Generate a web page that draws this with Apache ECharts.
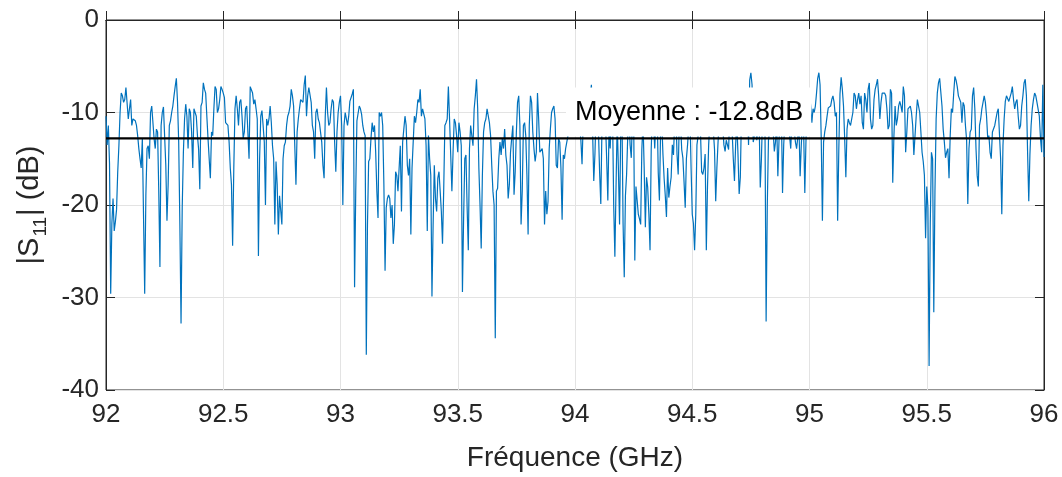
<!DOCTYPE html>
<html>
<head>
<meta charset="utf-8">
<script src="https://cdn.jsdelivr.net/npm/echarts@6/dist/echarts.min.js"></script>
<style>
  html, body { margin: 0; padding: 0; background: #fff; }
  #chart { width: 1062px; height: 477px; }
</style>
</head>
<body>
<div id="chart"></div>
<script>
// frequency sweep, 92 -> 96 GHz, one sample every 5 MHz
const freqStart = 92
const freqStep = 0.005

// |S11| in dB (one row = 0.1 GHz)
const s11 = [
  -10.4, -13.5, -11.4, -15.5, -29.6, -22.0, -19.3, -22.8, -21.8, -20.5, -16.4, -13.6, -10.0, -7.9, -8.2, -8.9, -8.6, -7.3, -7.2, -10.7,
  -9.6, -8.6, -11.4, -10.7, -10.7, -10.9, -11.4, -12.5, -13.9, -15.0, -16.0, -12.8, -12.8, -29.6, -19.0, -13.9, -13.6, -15.0, -10.0, -9.3,
  -9.3, -12.8, -13.9, -11.8, -12.1, -18.5, -26.7, -11.4, -10.0, -9.4, -9.6, -15.7, -21.7, -17.8, -11.4, -10.9, -10.0, -9.3, -8.2, -7.2,
  -6.3, -8.9, -13.2, -22.1, -32.8, -20.3, -14.3, -10.7, -9.1, -10.4, -13.9, -9.6, -10.0, -12.1, -16.0, -9.6, -9.6, -10.4, -12.5, -14.0,
  -18.3, -9.3, -8.9, -6.8, -7.5, -7.9, -10.4, -12.8, -15.0, -17.1, -12.1, -12.5, -9.6, -7.2, -7.5, -10.0, -9.6, -8.6, -7.2, -7.5,
  -7.9, -8.4, -11.1, -11.2, -11.4, -13.2, -16.0, -17.8, -24.4, -16.0, -9.6, -8.2, -9.6, -11.4, -8.9, -8.6, -10.4, -12.8, -12.1, -9.6,
  -9.3, -12.1, -15.0, -7.2, -7.2, -7.9, -9.1, -8.6, -9.6, -10.7, -25.5, -15.0, -10.4, -9.8, -11.4, -13.2, -20.0, -10.7, -11.4, -10.7,
  -9.3, -11.1, -13.6, -15.0, -22.1, -15.3, -17.8, -23.2, -19.0, -18.9, -22.1, -15.0, -13.6, -13.2, -11.4, -10.4, -10.0, -9.3, -7.5, -8.2,
  -9.3, -9.3, -17.8, -12.1, -10.7, -9.6, -8.6, -8.4, -8.9, -7.0, -6.0, -10.4, -8.2, -7.3, -7.5, -8.9, -11.4, -12.1, -15.0, -10.0,
  -9.6, -10.7, -11.1, -11.1, -13.2, -15.7, -17.1, -10.4, -7.3, -10.0, -11.4, -11.1, -9.6, -8.6, -8.9, -13.2, -16.4, -12.1, -10.0, -8.9,
  -8.2, -11.4, -20.0, -11.4, -10.0, -10.2, -11.4, -10.4, -8.8, -8.8, -8.0, -7.5, -28.9, -18.5, -10.9, -11.1, -9.3, -9.6, -10.2, -11.4,
  -12.1, -12.5, -36.2, -22.1, -15.3, -15.0, -12.8, -11.1, -12.1, -11.4, -14.3, -18.5, -21.4, -10.0, -10.4, -10.0, -11.4, -17.8, -27.1, -20.3,
  -19.3, -18.9, -19.3, -21.4, -20.0, -24.2, -22.1, -16.4, -16.8, -18.5, -16.0, -13.6, -20.7, -13.2, -11.8, -10.4, -11.4, -15.7, -16.8, -15.0,
  -23.2, -16.0, -13.2, -10.4, -11.1, -10.0, -8.6, -8.9, -7.5, -10.4, -9.6, -9.6, -10.7, -13.6, -22.8, -12.5, -15.0, -16.8, -29.9, -22.1,
  -15.7, -19.3, -20.7, -17.1, -16.4, -18.5, -20.7, -24.2, -18.5, -11.4, -11.1, -10.7, -7.2, -10.7, -14.6, -18.5, -14.3, -10.7, -11.1, -12.5,
  -14.3, -11.1, -12.1, -13.6, -29.4, -21.4, -15.0, -14.6, -20.3, -24.9, -13.9, -11.4, -11.4, -13.6, -9.6, -8.2, -6.4, -9.6, -16.0, -20.0,
  -24.7, -16.8, -12.1, -11.1, -10.7, -9.6, -9.6, -11.1, -12.5, -15.7, -18.5, -20.0, -34.4, -18.5, -18.2, -15.0, -13.2, -14.6, -12.8, -13.9,
  -11.8, -14.6, -15.7, -19.3, -17.8, -14.3, -12.8, -11.4, -18.9, -16.4, -12.1, -8.9, -8.2, -11.4, -22.1, -18.5, -11.4, -11.1, -12.5, -16.8,
  -23.2, -11.4, -8.2, -8.9, -12.1, -13.9, -15.3, -14.3, -7.9, -10.7, -14.3, -14.1, -13.9, -15.0, -22.1, -18.5, -21.0, -19.6, -13.9, -11.8,
  -10.0, -9.6, -9.3, -10.7, -15.7, -16.0, -12.8, -13.2, -16.0, -21.6, -14.6, -15.0, -13.9, -13.2, -12.5, -12.5, -11.0, -10.5, -9.0, -8.5,
  -10.0, -11.5, -9.5, -9.0, -11.5, -13.0, -15.6, -11.0, -10.5, -9.5, -8.5, -10.5, -11.0, -8.0, -7.0, -12.0, -17.4, -14.5, -10.0, -9.0,
  -12.0, -16.5, -19.9, -11.5, -9.0, -10.0, -11.0, -15.0, -19.5, -12.0, -13.9, -10.5, -10.0, -20.0, -25.6, -18.0, -11.0, -16.0, -22.1, -12.0,
  -9.5, -22.0, -27.8, -19.0, -16.7, -12.5, -10.5, -13.5, -14.9, -10.5, -10.0, -26.0, -18.0, -19.5, -21.0, -21.5, -22.1, -14.0, -11.0, -16.0,
  -22.4, -17.0, -18.1, -21.0, -24.9, -14.0, -10.0, -11.0, -13.9, -10.5, -9.5, -16.5, -19.5, -12.0, -11.0, -14.5, -17.1, -19.0, -21.3, -16.0,
  -19.2, -18.0, -17.0, -13.5, -14.6, -11.0, -10.0, -14.5, -16.7, -10.5, -11.0, -14.0, -14.9, -17.5, -20.3, -15.0, -13.5, -11.5, -10.0, -16.0,
  -21.0, -22.0, -24.9, -21.0, -13.5, -12.5, -11.0, -12.0, -16.4, -16.7, -16.0, -14.5, -24.9, -18.0, -13.5, -11.0, -9.5, -10.5, -12.0, -14.0,
  -19.6, -16.0, -13.2, -11.0, -10.5, -12.0, -11.5, -13.5, -14.2, -13.0, -13.5, -14.0, -10.0, -11.0, -12.0, -15.0, -17.4, -13.5, -11.0, -14.5,
  -18.8, -17.0, -10.0, -11.0, -11.5, -10.0, -9.0, -7.5, -13.5, -6.5, -5.7, -7.0, -13.2, -12.5, -11.0, -13.0, -12.0, -10.5, -18.1, -15.0,
  -10.0, -12.5, -11.0, -32.6, -20.0, -13.0, -12.0, -10.5, -10.0, -12.0, -14.2, -13.2, -11.0, -16.9, -13.0, -11.0, -10.0, -18.7, -13.5, -11.0,
  -11.5, -10.5, -10.0, -12.5, -13.9, -11.0, -9.5, -12.0, -13.2, -13.9, -13.9, -11.5, -16.9, -13.5, -11.0, -12.0, -18.7, -13.0, -9.0, -7.5,
  -7.9, -9.3, -11.1, -9.6, -10.0, -9.3, -7.9, -6.3, -5.7, -7.0, -12.8, -21.7, -13.2, -12.1, -11.4, -10.4, -9.5, -9.5, -9.3, -8.6,
  -8.2, -8.9, -10.4, -10.0, -21.7, -14.0, -8.0, -6.2, -7.5, -9.3, -12.8, -17.0, -11.8, -10.7, -11.1, -11.4, -11.4, -10.0, -7.9, -8.2,
  -9.6, -8.6, -7.9, -9.1, -8.2, -11.1, -11.8, -7.9, -8.6, -10.0, -7.5, -6.8, -10.7, -11.8, -11.4, -8.6, -7.5, -7.0, -6.4, -8.2,
  -10.7, -8.9, -7.9, -8.0, -7.9, -8.2, -9.6, -11.8, -11.4, -7.5, -7.9, -17.6, -12.5, -9.3, -11.4, -10.7, -9.3, -8.8, -9.3, -10.0,
  -7.2, -8.2, -14.3, -12.1, -9.6, -9.5, -9.3, -10.0, -11.4, -14.6, -14.6, -10.4, -8.6, -8.8, -10.0, -12.1, -14.3, -15.3, -16.8, -23.6,
  -18.0, -20.3, -37.4, -22.0, -14.3, -15.0, -31.6, -18.5, -10.7, -7.9, -6.8, -6.3, -6.4, -9.3, -11.8, -13.2, -14.9, -14.3, -13.9, -17.1,
  -12.5, -9.6, -10.0, -7.9, -6.1, -6.5, -7.2, -8.2, -8.2, -8.9, -11.1, -8.9, -9.3, -11.4, -13.0, -19.9, -13.9, -12.1, -11.8, -8.2,
  -7.3, -9.6, -13.9, -16.8, -18.0, -11.4, -10.7, -9.6, -8.9, -8.2, -8.9, -10.4, -12.8, -12.5, -14.3, -15.0, -12.1, -12.1, -11.4, -10.7,
  -10.0, -9.6, -9.6, -15.0, -21.0, -13.6, -10.7, -8.8, -8.2, -8.4, -8.8, -8.9, -7.9, -7.2, -8.6, -9.6, -8.9, -8.6, -10.4, -11.8,
  -11.4, -9.3, -8.2, -6.8, -6.4, -8.2, -14.3, -19.6, -14.5, -11.4, -9.6, -8.6, -7.9, -8.2, -8.9, -8.9, -10.4, -12.8, -14.3, -7.0,
  -14.8
]

const meanValue = -12.8
const meanText = 'Moyenne : -12.8dB'
const xTicks = [92, 92.5, 93, 93.5, 94, 94.5, 95, 95.5, 96]
const yTicks = [-40, -30, -20, -10, 0]

const axisColor = '#262626'
const gridColor = '#e3e3e3'
const fontFamily = 'Liberation Sans, Arial, Helvetica, sans-serif'

const traceData = s11.map((v, i) => [+(freqStart + i * freqStep).toFixed(3), v])

const chart = echarts.init(document.getElementById('chart'))

const baseX = {
  type: 'value',
  min: xTicks[0],
  max: xTicks[xTicks.length - 1],
  interval: xTicks[1] - xTicks[0]
}
const baseY = {
  type: 'value',
  min: yTicks[0],
  max: yTicks[yTicks.length - 1],
  interval: yTicks[1] - yTicks[0]
}

let option = {
  animation: false,
  backgroundColor: '#fff',
  grid: {
    left: 106, right: 18, top: 20, bottom: 83,
    show: true, borderColor: axisColor, borderWidth: 1
  },
  xAxis: [{
    ...baseX,
    name: 'Fréquence (GHz)',
    nameLocation: 'middle',
    nameGap: 54,
    nameTextStyle: { fontSize: 28, color: axisColor, fontFamily: fontFamily },
    axisLine: { show: true, lineStyle: { color: axisColor } },
    axisTick: { show: true, inside: true, length: 9, lineStyle: { color: axisColor } },
    axisLabel: { fontSize: 26, color: axisColor, fontFamily: fontFamily, margin: 12 },
    splitLine: { show: true, lineStyle: { color: gridColor, width: 1 } }
  }, {
    ...baseX,
    position: 'top',
    axisLine: { show: true, lineStyle: { color: axisColor } },
    axisTick: { show: true, inside: true, length: 9, lineStyle: { color: axisColor } },
    axisLabel: { show: false },
    splitLine: { show: false }
  }],
  yAxis: [{
    ...baseY,
    name: '|S{sub|11}| (dB)',
    nameLocation: 'middle',
    nameGap: 56,
    nameTextStyle: {
      fontSize: 29, color: axisColor, fontFamily: fontFamily,
      rich: {
        sub: { fontSize: 19, color: axisColor, fontFamily: fontFamily, padding: [22, 1, 0, 1] }
      }
    },
    axisLine: { show: true, lineStyle: { color: axisColor } },
    axisTick: { show: true, inside: true, length: 9, lineStyle: { color: axisColor } },
    axisLabel: { fontSize: 26, color: axisColor, fontFamily: fontFamily, margin: 7 },
    splitLine: { show: true, lineStyle: { color: gridColor, width: 1 } }
  }, {
    ...baseY,
    position: 'right',
    axisLine: { show: true, lineStyle: { color: axisColor } },
    axisTick: { show: true, inside: true, length: 9, lineStyle: { color: axisColor } },
    axisLabel: { show: false },
    splitLine: { show: false }
  }],
  series: [{
    name: 'S11',
    type: 'line',
    data: traceData,
    showSymbol: false,
    sampling: 'none',
    z: 2,
    lineStyle: { color: '#0072BD', width: 1.2 }
  }, {
    name: 'Moyenne',
    type: 'line',
    data: [[xTicks[0], meanValue], [xTicks[xTicks.length - 1], meanValue]],
    showSymbol: false,
    z: 10,
    lineStyle: { color: '#000', width: 2.2 }
  }]
}
chart.setOption(option)

// white label box sitting on the mean line
const anchor = chart.convertToPixel({ gridIndex: 0 }, [94, meanValue])
chart.setOption({
  graphic: [{
    type: 'text',
    z: 5,
    x: anchor[0] - 9,
    y: anchor[1] - 2,
    style: {
      text: meanText,
      font: '27px ' + fontFamily,
      fill: '#000',
      verticalAlign: 'bottom',
      backgroundColor: '#fff',
      padding: [12, 8, 10, 9]
    }
  }]
})
</script>
</body>
</html>
